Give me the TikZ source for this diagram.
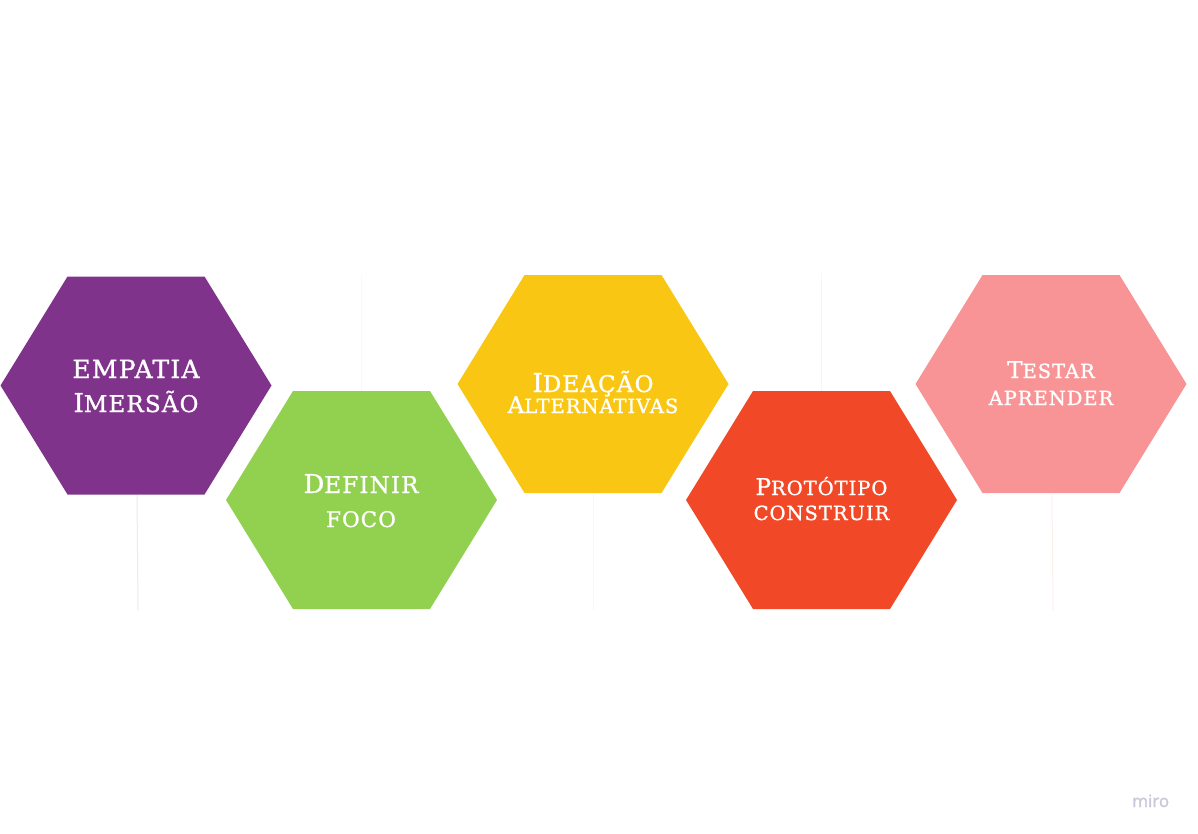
\documentclass[tikz,border=0pt]{standalone}
\usepackage{fontspec}
\setmainfont{DejaVu Serif}[FakeBold=1.2, LetterSpace=5]
\newfontfamily\brandfont{Open Sans}[FakeBold=1.5]
\definecolor{hexpurple}{RGB}{128,51,139}
\definecolor{hexgreen}{RGB}{146,208,80}
\definecolor{hexyellow}{RGB}{249,199,19}
\definecolor{hexred}{RGB}{241,73,39}
\definecolor{hexpink}{RGB}{249,148,150}
\definecolor{brandgray}{RGB}{200,200,216}
% capital and small-capital sizes
\newcommand{\capA}{\fontsize{26pt}{26pt}\selectfont}
\newcommand{\scA}{\fontsize{23pt}{23pt}\selectfont}
\newcommand{\capB}{\fontsize{23pt}{23pt}\selectfont}
\newcommand{\scB}{\fontsize{19.5pt}{19.5pt}\selectfont}
% flat-topped hexagon centred at (#2,#3)
\newcommand{\hexcell}[3]{%
  \fill[#1, shift={(#2,#3)}] (-135.5,0) -- (-68.5,-109) -- (68.5,-109)
    -- (135.5,0) -- (68.5,109) -- (-68.5,109) -- cycle;}
\tikzset{
  label/.style={text=white, anchor=base, inner sep=0pt, font=\scA},
  guide/.style={line width=1pt},
}
\begin{document}
\begin{tikzpicture}[x=1pt, y=-1pt]
\useasboundingbox (0,0) rectangle (1198,834);
\fill[white] (0,0) rectangle (1198,834);

% faint guide lines
\draw[guide, color=hexpurple!12] (137,495) -- (138,610);
\draw[guide, color=hexgreen!10!cyan!8] (361,274) -- (361,391);
\draw[guide, color=hexyellow!12] (593,494) -- (593,610);
\draw[guide, color=hexred!10!magenta!6] (821,273) -- (821,391);
\draw[guide, color=hexpink!15] (1052,494) -- (1053,610);

% hexagons
\hexcell{hexpurple}{136}{385.5}
\hexcell{hexgreen}{361.5}{500}
\hexcell{hexyellow}{593}{384}
\hexcell{hexred}{821.5}{500}
\hexcell{hexpink}{1051}{384}

% labels
\node[label] (emp1) at (136,378) {\fontsize{25pt}{25pt}\selectfont EMPATIA};
\node[label] (emp2) at (136,412) {{\capA I}MERSÃO};
\node[label] (def1) at (361,493) {{\capA D}EFINIR};
\node[label, font=\fontsize{21.5pt}{21.5pt}\selectfont] (def2) at (361,527) {FOCO};
\node[label] (ide1) at (593,392) {{\capA I}DEAÇÃO};
\node[label, font=\scB] (ide2) at (593,413) {{\capB A}LTERNATIVAS};
\node[label, font=\scB] (pro1) at (821.5,495) {{\capB P}ROTÓTIPO};
\node[label, font=\scB] (pro2) at (821.5,520) {CONSTRUIR};
\node[label, font=\scB] (tes1) at (1051,378) {{\capB T}ESTAR};
\node[label, font=\scB] (tes2) at (1051,405) {APRENDER};

% brand mark
\node[text=brandgray, font=\brandfont\fontsize{17pt}{17pt}\selectfont, anchor=base west, inner sep=0pt] (brand) at (1132,807) {miro};
\end{tikzpicture}
\end{document}
